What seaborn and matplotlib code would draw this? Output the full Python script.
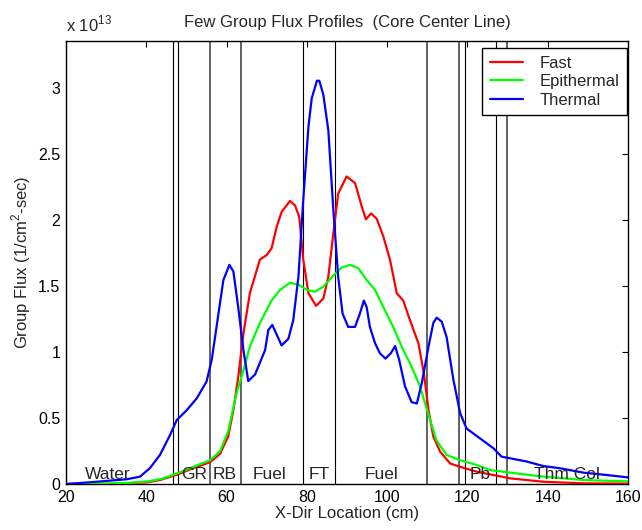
import numpy as np
import pandas as pd
import matplotlib
matplotlib.use("Agg")
import matplotlib.pyplot as plt
import seaborn as sns

# flux values in units of 1e13 n/cm^2-sec
fast_x = [20, 30, 35, 40, 43.4, 47.6, 51.7, 55.9, 58.4, 60.4, 61.7, 62.9, 64.2, 65.8,
          68.3, 70.0, 71.2, 72.5, 73.7, 75.8, 77.05, 78.1, 79.1, 80.4, 82.3, 84.1, 85.35,
          86.6, 87.8, 89.9, 92.0, 93.7, 94.7, 96.0, 97.4, 99.05, 100.7, 102.4, 104.0,
          105.7, 107.8, 109.2, 110.3, 111.5, 113.2, 115.7, 118.2, 122.3, 126.5, 130.6,
          138.9, 148.9, 160]
fast_y = [0.0, 0.002, 0.005, 0.012, 0.03, 0.07, 0.12, 0.165, 0.23, 0.36, 0.56, 0.81, 1.14,
          1.445, 1.70, 1.735, 1.785, 1.95, 2.06, 2.145, 2.11, 2.025, 1.70, 1.445, 1.35,
          1.405, 1.57, 1.90, 2.20, 2.33, 2.28, 2.10, 2.005, 2.05, 2.01, 1.875, 1.70, 1.445,
          1.39, 1.24, 1.065, 0.83, 0.56, 0.36, 0.245, 0.155, 0.13, 0.093, 0.068, 0.043,
          0.017, 0.005, 0.003]

epi_x = [20, 30, 35, 40, 44, 47.6, 51.7, 55.9, 58.4, 60.4, 62.5, 64.2, 65.8, 68.3, 70.0,
         71.2, 73.3, 75.8, 77.9, 80.0, 82.0, 84.1, 86.6, 88.7, 90.75, 92.8, 94.9, 97.0,
         99.05, 101.5, 104.0, 105.7, 108.2, 110.7, 112.3, 114.8, 118.2, 122.3, 125.6,
         130.6, 138.9, 148.9, 160]
epi_y = [0.0, 0.003, 0.008, 0.018, 0.04, 0.08, 0.13, 0.18, 0.25, 0.40, 0.69, 0.86, 1.04,
         1.22, 1.32, 1.39, 1.47, 1.525, 1.51, 1.47, 1.457, 1.495, 1.58, 1.64, 1.66, 1.635,
         1.545, 1.47, 1.34, 1.19, 1.015, 0.915, 0.74, 0.485, 0.33, 0.22, 0.18, 0.144,
         0.106, 0.086, 0.056, 0.03, 0.02]

therm_x = [20, 26.8, 35.1, 38.4, 40.9, 43.4, 45.9, 47.6, 50.1, 52.6, 55.0, 56.3, 57.5,
           59.2, 60.7, 61.7, 62.9, 64.2, 65.4, 67.1, 69.6, 70.4, 71.4, 73.7, 75.4, 76.6,
           77.9, 79.1, 80.4, 81.2, 82.5, 83.1, 84.1, 85.35, 86.6, 87.8, 88.9, 90.3, 92.0,
           93.2, 94.2, 94.9, 95.7, 97.0, 98.2, 99.6, 100.9, 102.0, 103.0, 104.45, 106.1,
           107.4, 108.6, 110.3, 111.5, 112.35, 113.6, 114.8, 116.5, 118.2, 119.8, 123.1,
           126.5, 128.5, 130.6, 134.8, 138.9, 143.1, 148.9, 154.7, 160]
therm_y = [0.0, 0.015, 0.036, 0.055, 0.12, 0.22, 0.37, 0.485, 0.56, 0.65, 0.775, 0.94,
           1.19, 1.545, 1.66, 1.61, 1.34, 1.015, 0.78, 0.83, 1.015, 1.167, 1.205, 1.05,
           1.10, 1.24, 1.57, 2.15, 2.71, 2.92, 3.055, 3.055, 2.95, 2.68, 2.075, 1.57, 1.29,
           1.19, 1.19, 1.29, 1.39, 1.34, 1.19, 1.065, 0.99, 0.95, 0.99, 1.045, 0.94, 0.74,
           0.62, 0.61, 0.76, 1.04, 1.22, 1.26, 1.23, 1.115, 0.79, 0.535, 0.42, 0.346, 0.27,
           0.207, 0.195, 0.17, 0.136, 0.119, 0.086, 0.068, 0.05]

groups = ["Fast", "Epithermal", "Thermal"]
group_colors = ["#ff0000", "#00ff00", "#0000ff"]

# material region boundaries (cm) and region names
bounds = [46.7, 48.0, 55.9, 63.6, 79.1, 87.0, 110.0, 117.9, 119.4, 127.0, 129.8]
bound_dark = [True, True, False, False, True, True, False, False, True, True, False]
regions = ["Water", "GR", "RB", "Fuel", "FT", "Fuel", "Pb", "Thm Col"]
region_x = [30.4, 52.0, 59.6, 70.7, 83.0, 98.6, 123.3, 144.7]

sns.set_style("white")
plt.rcParams["font.family"] = ["Liberation Sans", "DejaVu Sans"]
plt.rcParams["mathtext.fontset"] = "custom"
plt.rcParams["mathtext.rm"] = "Liberation Sans"

df = pd.concat([
    pd.DataFrame({"x": fast_x, "flux": fast_y, "group": "Fast"}),
    pd.DataFrame({"x": epi_x, "flux": epi_y, "group": "Epithermal"}),
    pd.DataFrame({"x": therm_x, "flux": therm_y, "group": "Thermal"}),
], ignore_index=True)

fig = plt.figure(figsize=(6.42, 5.30), dpi=100)
ax = fig.add_axes([0.1028, 0.0868, 0.8754, 0.8358])

for b, dark in zip(bounds, bound_dark):
    if dark:
        ax.axvline(b, color="black", lw=0.8, zorder=1)
    else:
        ax.axvline(b, color="#555555", lw=1.3, zorder=1)

sns.lineplot(data=df, x="x", y="flux", hue="group", hue_order=groups,
             palette=dict(zip(groups, group_colors)), sort=False, estimator=None,
             lw=1.6, ax=ax, zorder=3)

for name, xc in zip(regions, region_x):
    ax.text(xc, 0.035, name, ha="center", va="baseline", fontsize=12.5, zorder=4)

ax.set_xlim(20, 160)
ax.set_ylim(0, 3.356)
ax.set_xticks(np.arange(20, 161, 20))
ax.set_yticks([0, 0.5, 1, 1.5, 2, 2.5, 3])
ax.set_yticklabels(["0", "0.5", "1", "1.5", "2", "2.5", "3"])
ax.tick_params(direction="in", top=True, right=True, length=4, width=0.8,
               labelsize=11.5, pad=4, colors="black")
for sp in ax.spines.values():
    sp.set_color("black")
    sp.set_linewidth(1.0)

ax.set_xlabel("X-Dir Location (cm)", fontsize=12, labelpad=1)
ax.set_ylabel("Group Flux (1/cm$^2$-sec)", fontsize=12, labelpad=4)
ax.set_title("Few Group Flux Profiles  (Core Center Line)", fontsize=12, pad=10)
ax.text(0.0, 1.014, r"x 10$^{13}$", transform=ax.transAxes, ha="left",
        va="bottom", fontsize=12)

leg = ax.legend(loc="upper right", bbox_to_anchor=(0.998, 0.984), frameon=True,
                fancybox=False, edgecolor="black", fontsize=12, handlelength=2.0,
                handletextpad=1.0, borderpad=0.45, labelspacing=0.22,
                borderaxespad=0)
leg.get_frame().set_linewidth(1.0)
leg.get_frame().set_alpha(1)
leg._legend_box.sep = 0

fig.savefig("out.png", dpi=100)
